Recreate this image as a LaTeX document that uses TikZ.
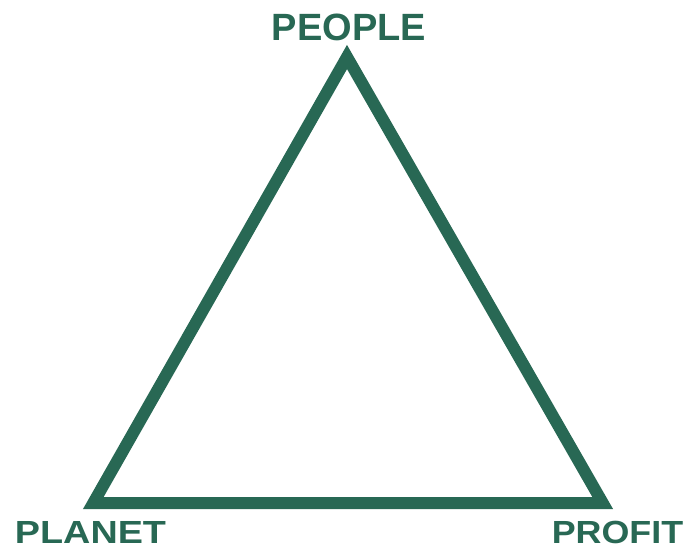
\documentclass[tikz,border=0pt]{standalone}
\usepackage{fontspec}
\setmainfont{Liberation Sans}
\definecolor{tgreen}{RGB}{40,104,84}
\begin{document}
\begin{tikzpicture}[x=1pt,y=1pt,
  edge/.style={draw=tgreen,line width=12pt,line join=miter,miter limit=10},
  toplabel/.style={text=tgreen,font=\bfseries\fontsize{38}{40}\selectfont,anchor=base,inner sep=0pt},
  botlabel/.style={text=tgreen,font=\bfseries\fontsize{32}{34}\selectfont,anchor=base,inner sep=0pt}]
\useasboundingbox (0,0) rectangle (690,554);
\coordinate (top) at (347,497);
\coordinate (bl) at (93.3,51);
\coordinate (br) at (602.7,51);
\draw[edge] (top) -- (bl) -- (br) -- cycle;
\node[toplabel] (people) at (349,513) {PEOPLE};
\node[botlabel,xscale=1.18] (planet) at (90.5,11) {PLANET};
\node[botlabel,xscale=1.12] (profit) at (617.5,11) {PROFIT};
\end{tikzpicture}
\end{document}
